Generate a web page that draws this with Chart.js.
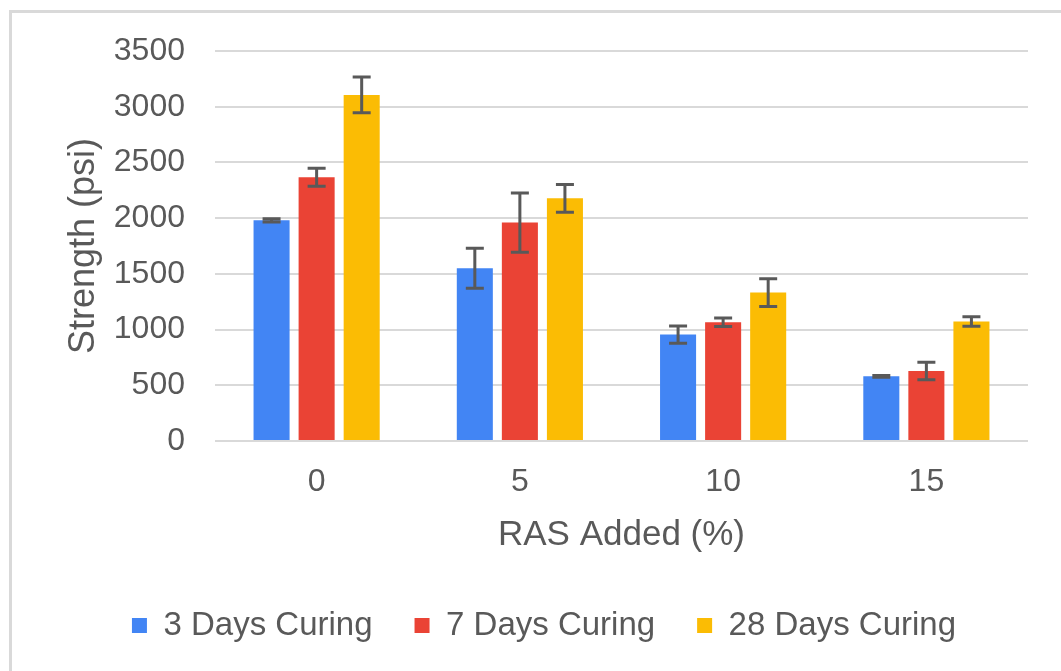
<!DOCTYPE html>
<html>
<head>
<meta charset="utf-8">
<script src="https://cdn.jsdelivr.net/npm/chart.js@4/dist/chart.umd.min.js"></script>
<style>
  html, body { margin: 0; padding: 0; background: #ffffff; }
  #wrap { position: relative; width: 1061px; height: 671px; background: #ffffff; overflow: hidden; }
  #frame { position: absolute; left: 9px; top: 10px; right: -10px; bottom: -10px; border-top: 3px solid #d9d9d9; border-left: 3px solid #d9d9d9; pointer-events: none; }
</style>
</head>
<body>
<div id="wrap">
  <canvas id="c"></canvas>
  <div id="frame"></div>
</div>
<script>
const categories = ['0', '5', '10', '15'];
const seriesNames = ['3 Days Curing', '7 Days Curing', '28 Days Curing'];
const days3 = [1980, 1550, 955, 580];
const days7 = [2367, 1960, 1065, 628];
const days28 = [3106, 2178, 1332, 1072];
const err3 = [15, 180, 78, 8];
const err7 = [80, 265, 38, 79];
const err28 = [160, 125, 125, 43];
const yTicksMin = 0, yTicksMax = 3500, yTickStep = 500;

const colors = ['#4285F4', '#EA4335', '#FBBC04'];
const errors = [err3, err7, err28];
const FONT = "'Liberation Sans', Arial, sans-serif";
const TXT = '#595959';

const errorBarPlugin = {
  id: 'errorBars',
  afterDatasetsDraw(chart) {
    const ctx = chart.ctx;
    const ys = chart.scales.y;
    chart.data.datasets.forEach((ds, i) => {
      const meta = chart.getDatasetMeta(i);
      meta.data.forEach((bar, j) => {
        const v = ds.data[j], e = errors[i][j];
        const yt = ys.getPixelForValue(v + e);
        const yb = ys.getPixelForValue(v - e);
        const x = bar.x, hw = 9;
        ctx.save();
        ctx.strokeStyle = '#595959';
        ctx.lineWidth = 3;
        ctx.beginPath();
        ctx.moveTo(x, yt); ctx.lineTo(x, yb);
        ctx.moveTo(x - hw, yt); ctx.lineTo(x + hw, yt);
        ctx.moveTo(x - hw, yb); ctx.lineTo(x + hw, yb);
        ctx.stroke();
        ctx.restore();
      });
    });
  }
};

const legendShift = {
  id: 'legendShift',
  afterLayout(chart) {
    if (chart.legend) { chart.legend.left += 30; chart.legend.right += 30; }
  }
};

new Chart(document.getElementById('c'), {
  type: 'bar',
  data: {
    labels: categories,
    datasets: [days3, days7, days28].map((d, i) => ({
      label: seriesNames[i],
      data: d,
      backgroundColor: colors[i],
      borderWidth: 0,
      categoryPercentage: 0.665,
      barPercentage: 0.8
    }))
  },
  options: {
    responsive: true,
    maintainAspectRatio: false,
    animation: false,
    layout: { padding: { left: 0, right: 33, top: 51, bottom: 19 } },
    plugins: {
      tooltip: { enabled: false },
      legend: {
        position: 'bottom',
        labels: {
          boxWidth: 15, boxHeight: 15, padding: 42,
          color: TXT,
          font: { family: FONT, size: 33 }
        }
      }
    },
    scales: {
      x: {
        grid: { display: false, drawTicks: false },
        border: { display: false },
        ticks: { color: TXT, font: { family: FONT, size: 32 }, padding: 22 },
        title: { display: true, text: 'RAS Added (%)', color: TXT, font: { family: FONT, size: 35 }, padding: { top: 0, bottom: 11 } },
        afterFit(scale) { scale.height = 126; }
      },
      y: {
        min: yTicksMin, max: yTicksMax,
        grid: { color: '#d9d9d9', lineWidth: 2, drawTicks: false },
        border: { display: false },
        ticks: { stepSize: yTickStep, color: TXT, font: { family: FONT, size: 32 }, padding: 30, callback: (v) => String(v) },
        title: { display: true, text: 'Strength (psi)', color: TXT, font: { family: FONT, size: 36 }, padding: { top: 62, bottom: 0 } },
        afterFit(scale) { scale.width = 215; }
      }
    }
  },
  plugins: [errorBarPlugin, legendShift]
});
</script>
</body>
</html>
